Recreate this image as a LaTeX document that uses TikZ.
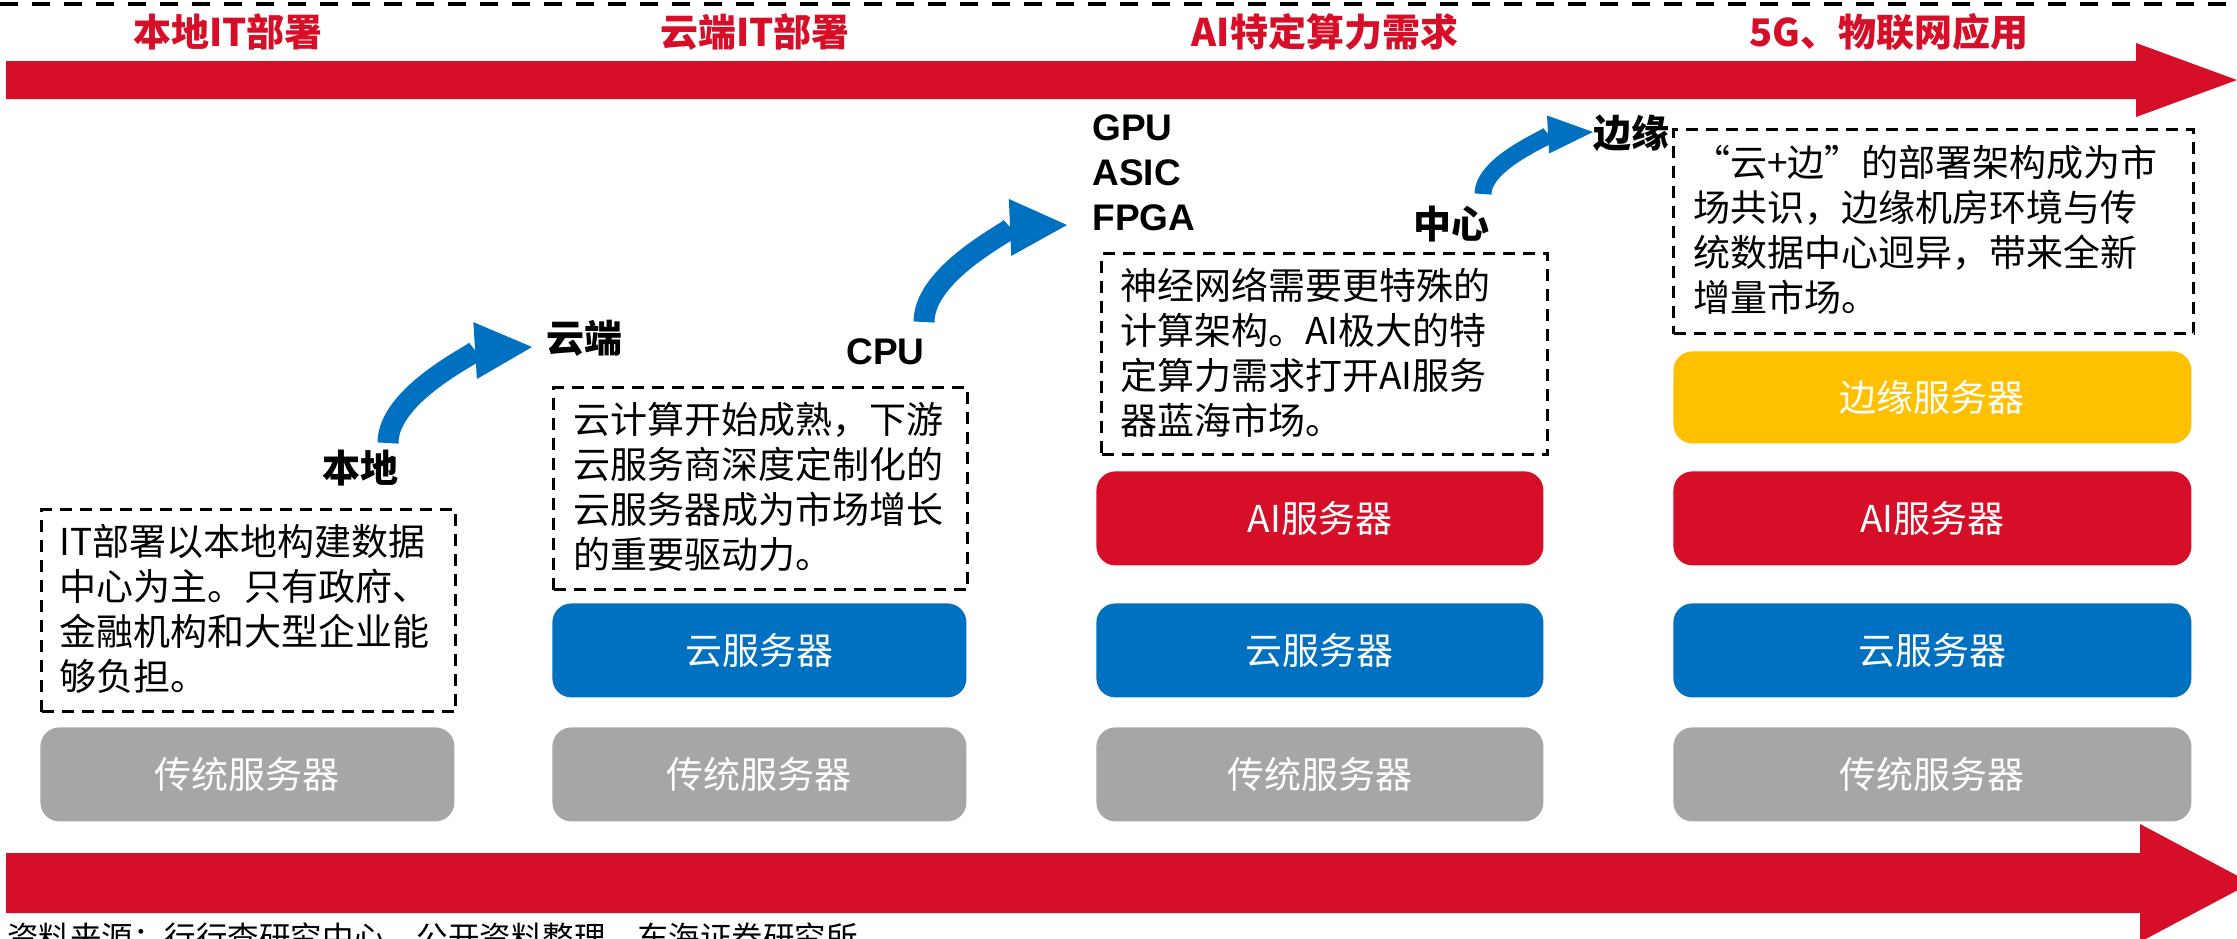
\documentclass[tikz,border=0pt]{standalone}
\usepackage{fontspec}
\setmainfont{Noto Sans CJK SC}
\newfontfamily\cjk{Noto Sans CJK SC}
\newfontfamily\lat{Liberation Sans}
\usetikzlibrary{arrows.meta}
\definecolor{myred}{HTML}{D60E28}
\definecolor{myblue}{HTML}{0070C0}
\definecolor{mygray}{HTML}{A6A6A6}
\definecolor{myyellow}{HTML}{FFC000}
\begin{document}
\begin{tikzpicture}[x=0.5pt,y=-0.5pt,
  heading/.style={text=myred, font=\cjk\bfseries\fontsize{19}{22}\selectfont, inner sep=0},
  lbl/.style={font=\cjk\bfseries\fontsize{19}{22}\selectfont, inner sep=0},
  latlbl/.style={font=\lat\bfseries\fontsize{18.5}{22}\selectfont, inner sep=0, anchor=west},
  dbox/.style={draw=black, line width=1.5pt, dash pattern=on 6pt off 4pt, inner sep=0, anchor=north west},
  body/.style={font=\cjk\fontsize{18.5}{22.5}\selectfont, align=left, inner sep=0, anchor=west},
  srv/.style={rounded corners=9.5pt, inner sep=0, text=white, font=\cjk\fontsize{18.5}{22}\selectfont, anchor=north west, minimum height=47pt},
  bluearrow/.style={draw=myblue, line width=10.5pt, -{Triangle[length=28.5pt,width=28.5pt,line width=0pt]}},
  smallarrow/.style={draw=myblue, line width=8.5pt, -{Triangle[length=22.5pt,width=19pt,line width=0pt]}}
]
\useasboundingbox (0,0) rectangle (2237,938);
\clip (0,0) rectangle (2237,938);

% top dashed line
\draw[line width=1.7pt, dash pattern=on 9pt off 7pt] (0,4) -- (2237,4);

% big red arrows
\fill[myred] (6,61) -- (2136,61) -- (2136,43) -- (2237,80) -- (2136,117) -- (2136,99) -- (6,99) -- cycle;
\fill[myred] (6,853) -- (2140,853) -- (2140,824) -- (2251,883) -- (2140,942) -- (2140,913) -- (6,913) -- cycle;

% headings
\node[heading] (h1) at (228,32) {本地IT部署};
\node[heading] (h2) at (755,32) {云端IT部署};
\node[heading] (h3) at (1325,32) {AI特定算力需求};
\node[heading] (h4) at (1889,32) {5G、物联网应用};

% column 1
\node[dbox, minimum width=207pt, minimum height=101pt] (d1) at (40,508) {};
\node[body] (t1) at (59,609) {IT部署以本地构建数据\\中心为主。只有政府、\\金融机构和大型企业能\\够负担。};
\node[srv, fill=mygray, minimum width=207pt] (g1) at (40,727) {传统服务器};
\node[lbl] (bendi) at (360,468) {本地};
\node[lbl] (yunduan) at (584,338) {云端};

% column 2
\node[dbox, minimum width=207pt, minimum height=101pt] (d2) at (552,386) {};
\node[body] (t2) at (573,487) {云计算开始成熟，下游\\云服务商深度定制化的\\云服务器成为市场增长\\的重要驱动力。};
\node[srv, fill=myblue, minimum width=207pt] (b2) at (552,603) {云服务器};
\node[srv, fill=mygray, minimum width=207pt] (g2) at (552,727) {传统服务器};
\node[latlbl] (cpu) at (846,352) {CPU};

% column 3
\node[latlbl] (gpu) at (1092,128) {GPU};
\node[latlbl] (asic) at (1092,173) {ASIC};
\node[latlbl] (fpga) at (1092,218) {FPGA};
\node[lbl] (zhongxin) at (1451,224) {中心};
\node[lbl] (bianyuan) at (1631,133) {边缘};
\node[dbox, minimum width=223pt, minimum height=100.5pt] (d3) at (1100,252) {};
\node[body] (t3) at (1120,352.5) {神经网络需要更特殊的\\计算架构。AI极大的特\\定算力需求打开AI服务\\器蓝海市场。};
\node[srv, fill=myred, minimum width=223.5pt] (r3) at (1096,471) {AI服务器};
\node[srv, fill=myblue, minimum width=223.5pt] (b3) at (1096,603) {云服务器};
\node[srv, fill=mygray, minimum width=223.5pt] (g3) at (1096,727) {传统服务器};

% column 4
\node[dbox, minimum width=260pt, minimum height=102pt] (d4) at (1672,128) {};
\node[body] (t4) at (1693,230) {“云+边”的部署架构成为市\\场共识，边缘机房环境与传\\统数据中心迥异，带来全新\\增量市场。};
\node[srv, fill=myyellow, minimum width=259pt, minimum height=46pt] (y4) at (1673,351) {边缘服务器};
\node[srv, fill=myred, minimum width=259pt] (r4) at (1673,471) {AI服务器};
\node[srv, fill=myblue, minimum width=259pt] (b4) at (1673,603) {云服务器};
\node[srv, fill=mygray, minimum width=259pt] (g4) at (1673,727) {传统服务器};

% blue curved arrows
\coordinate (a1s) at (388,443);
\coordinate (a1e) at (532,347);
\draw[bluearrow] (a1s) .. controls +(0,-51) and +(-48,3) .. (a1e);
\coordinate (a2s) at (924,322);
\coordinate (a2e) at (1067,225);
\draw[bluearrow] (a2s) .. controls +(0,-52) and +(-47,2) .. (a2e);
\coordinate (a3s) at (1483,194);
\coordinate (a3e) at (1593,132);
\draw[smallarrow] (a3s) .. controls +(0,-33) and +(-36,2) .. (a3e);

% source
\node[anchor=base west, font=\cjk\fontsize{15.75}{18}\selectfont, inner sep=0] (src) at (7,949) {资料来源：行行查研究中心、公开资料整理，东海证券研究所};
\end{tikzpicture}
\end{document}
